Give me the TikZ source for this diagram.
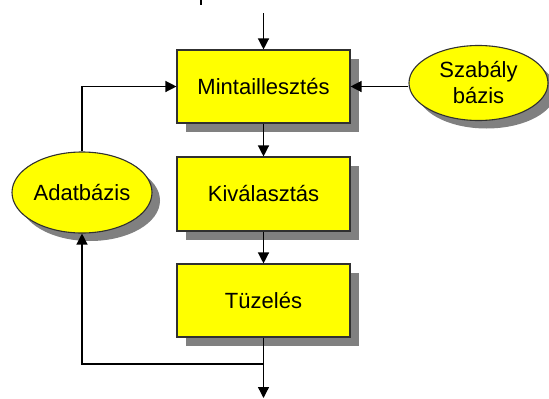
\documentclass[tikz,border=0pt]{standalone}
\usepackage{fontspec}
\setmainfont{Liberation Sans}
\usetikzlibrary{arrows.meta,shadows,shapes.geometric}
\definecolor{boxyellow}{HTML}{FFFF00}
\definecolor{shadowgray}{HTML}{808080}
\definecolor{edgegray}{HTML}{303030}
\tikzset{
  procbox/.style={draw=edgegray, line width=1.1pt, fill=boxyellow,
    minimum width=173pt, minimum height=73pt, inner sep=0pt,
    font=\fontsize{22}{26}\selectfont,
    drop shadow={shadow xshift=9pt, shadow yshift=-9pt, fill=shadowgray, opacity=1}},
  store/.style={ellipse, draw=edgegray, line width=1.1pt, fill=boxyellow,
    inner sep=0pt, font=\fontsize{22}{26}\selectfont, align=center,
    drop shadow={shadow xshift=8pt, shadow yshift=-8pt, fill=shadowgray, opacity=1}},
  arr/.style={line width=1.3pt, -{Triangle[length=11pt,width=11pt]}},
  ln/.style={line width=1.3pt}
}
\begin{document}
\begin{tikzpicture}[x=1pt,y=-1pt]
\useasboundingbox (0,0) rectangle (549,399);
\node[procbox] (m) at (263.5,86.5) {Mintaillesztés};
\node[procbox, minimum height=74pt] (k) at (263.5,194) {Kiválasztás};
\node[procbox] (t) at (263.5,300.5) {Tüzelés};
\node[store, minimum width=140pt, minimum height=81pt] (a) at (82,192.5) {Adatbázis};
\node[store, minimum width=139pt, minimum height=75pt] (s) at (478.5,83) {Szabály\\bázis};
\coordinate (in) at (263.5,13);
\coordinate (out) at (263.5,398);
\coordinate (j) at (263.5,364);
\coordinate (mk1) at (201,0);
\coordinate (mk2) at (201,5);
\draw[line width=1.5pt] (mk1) -- (mk2);
\draw[arr] (in) -- (m.north);
\draw[arr] (m.south) -- (k.north);
\draw[arr] (k.south) -- (t.north);
\draw[arr] (t.south) -- (out);
\draw[arr] (j) -| (a.south);
\draw[arr] (a.north) |- (m.west);
\draw[arr] (s.west |- m.east) -- (m.east);
\end{tikzpicture}
\end{document}
